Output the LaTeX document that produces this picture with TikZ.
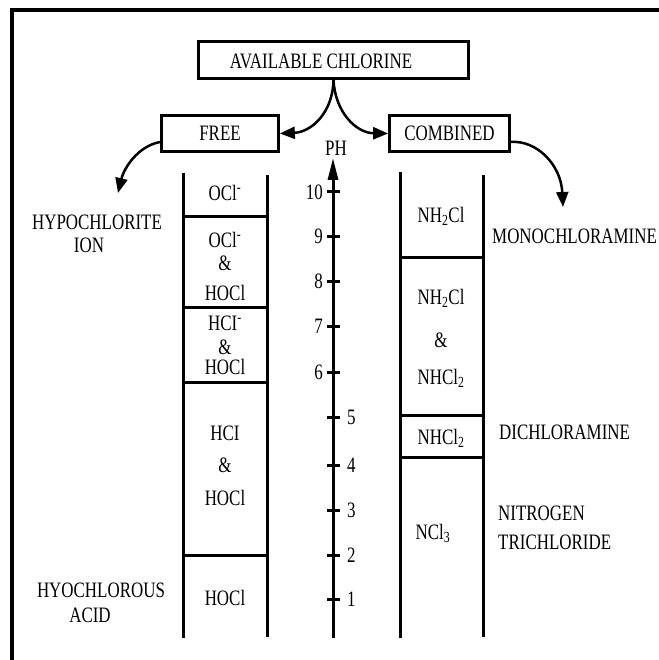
\documentclass[tikz,border=0pt]{standalone}
\usepackage{fontspec}
\setmainfont{Liberation Serif}[FakeStretch=0.77]
\usetikzlibrary{arrows.meta}
\begin{document}
\begin{tikzpicture}[x=1pt,y=-1pt,
  lbl/.style={inner sep=0pt, font=\fontsize{22}{26}\selectfont, text height=14.5pt, text depth=0pt},
  titlebox/.style={draw, line width=2.7pt, inner sep=0pt},
  col/.style={line width=3pt},
  conn/.style={line width=2.5pt, -{Triangle[length=15pt,width=12pt]}},
  axisline/.style={line width=3pt, -{Triangle[length=22pt,width=10pt]}},
  tickmark/.style={line width=3pt},
  frameline/.style={line width=4.5pt}
]
\useasboundingbox (0,0) rectangle (658,660);
% outer frame (only left and top edges visible)
\draw[frameline] (12,680) -- (12,10) -- (680,10);

% title boxes
\node[titlebox, minimum width=270pt, minimum height=37pt] (avail) at (333.5,60) {};
\node[lbl] (availtxt) at (321,61) {AVAILABLE CHLORINE};
\node[titlebox, lbl, draw, line width=2.7pt, minimum width=117pt, minimum height=36pt] (free) at (220,133.5) {FREE};
\node[titlebox, lbl, draw, line width=2.7pt, minimum width=120pt, minimum height=36pt] (comb) at (449.5,133.5) {COMBINED};

% connectors
\coordinate (hypotip) at (118,193);
\coordinate (monotip) at (563,207);
\draw[conn] (avail.south) .. controls (333,112) and (312,132) .. (free.east);
\draw[conn] (avail.south) .. controls (335,112) and (356,133) .. (comb.west);
\draw[conn] ([yshift=-8.5pt]free.west) .. controls (138,146) and (124,168) .. (hypotip);
\draw[conn] ([yshift=-8.5pt]comb.east) .. controls (537,140) and (561,165) .. (monotip);

% left column
\draw[col] (183,173) -- (183,638);
\draw[col] (267,175) -- (267,637);
\foreach \yy in {216,307,382,555} \draw[col] (183,\yy) -- (267,\yy);
% right column
\draw[col] (400,172) -- (400,638);
\draw[col] (483,175) -- (483,637);
\foreach \yy in {257,415,457} \draw[col] (400,\yy) -- (483,\yy);

% pH axis
\coordinate (phbase) at (333,638);
\coordinate (phtip) at (333,158);
\draw[axisline] (phbase) -- (phtip);
\node[lbl] (phlbl) at (336,148) {PH};
\foreach \v/\yy in {10/192,9/236,8/281,7/326,6/372,5/417,4/465,3/510,2/555,1/599}
  \draw[tickmark] (327,\yy) -- (340,\yy);
\foreach \v/\yy in {10/192,9/236,8/281,7/326,6/372}
  \node[lbl, anchor=east] (ph\v) at (323,\yy) {\v};
\foreach \v/\yy in {5/417,4/465,3/510,2/555,1/599}
  \node[lbl, anchor=west] (ph\v) at (347,\yy) {\v};

% left column texts
\node[lbl] (c1) at (225,193) {OCl\textsuperscript{-}};
\node[lbl] (c2a) at (225,240) {OCl\textsuperscript{-}};
\node[lbl] (c2b) at (225,263) {\&};
\node[lbl] (c2c) at (225,293) {HOCl};
\node[lbl] (c3a) at (225,323) {HCI\textsuperscript{-}};
\node[lbl] (c3b) at (225,347) {\&};
\node[lbl] (c3c) at (225,367) {HOCl};
\node[lbl] (c4a) at (225,433) {HCI};
\node[lbl] (c4b) at (225,465) {\&};
\node[lbl] (c4c) at (225,498) {HOCl};
\node[lbl] (c5) at (225,598) {HOCl};

% right column texts
\node[lbl] (r1) at (441,215) {NH\textsubscript{2}Cl};
\node[lbl] (r2a) at (441,297) {NH\textsubscript{2}Cl};
\node[lbl] (r2b) at (441,340) {\&};
\node[lbl] (r2c) at (441,377) {NHCl\textsubscript{2}};
\node[lbl] (r3) at (441,437) {NHCl\textsubscript{2}};
\node[lbl] (r4) at (433,532) {NCl\textsubscript{3}};

% side labels
\node[lbl] (hypo1) at (97,222) {HYPOCHLORITE};
\node[lbl] (hypo2) at (89,245) {ION};
\node[lbl] (hyac1) at (101,590) {HYOCHLOROUS};
\node[lbl] (hyac2) at (90,615) {ACID};
\node[lbl, anchor=west] (mono) at (492,236) {MONOCHLORAMINE};
\node[lbl, anchor=west] (dich) at (499,432) {DICHLORAMINE};
\node[lbl, anchor=west] (nitr1) at (498,513) {NITROGEN};
\node[lbl, anchor=west] (nitr2) at (498,542) {TRICHLORIDE};
\end{tikzpicture}
\end{document}
